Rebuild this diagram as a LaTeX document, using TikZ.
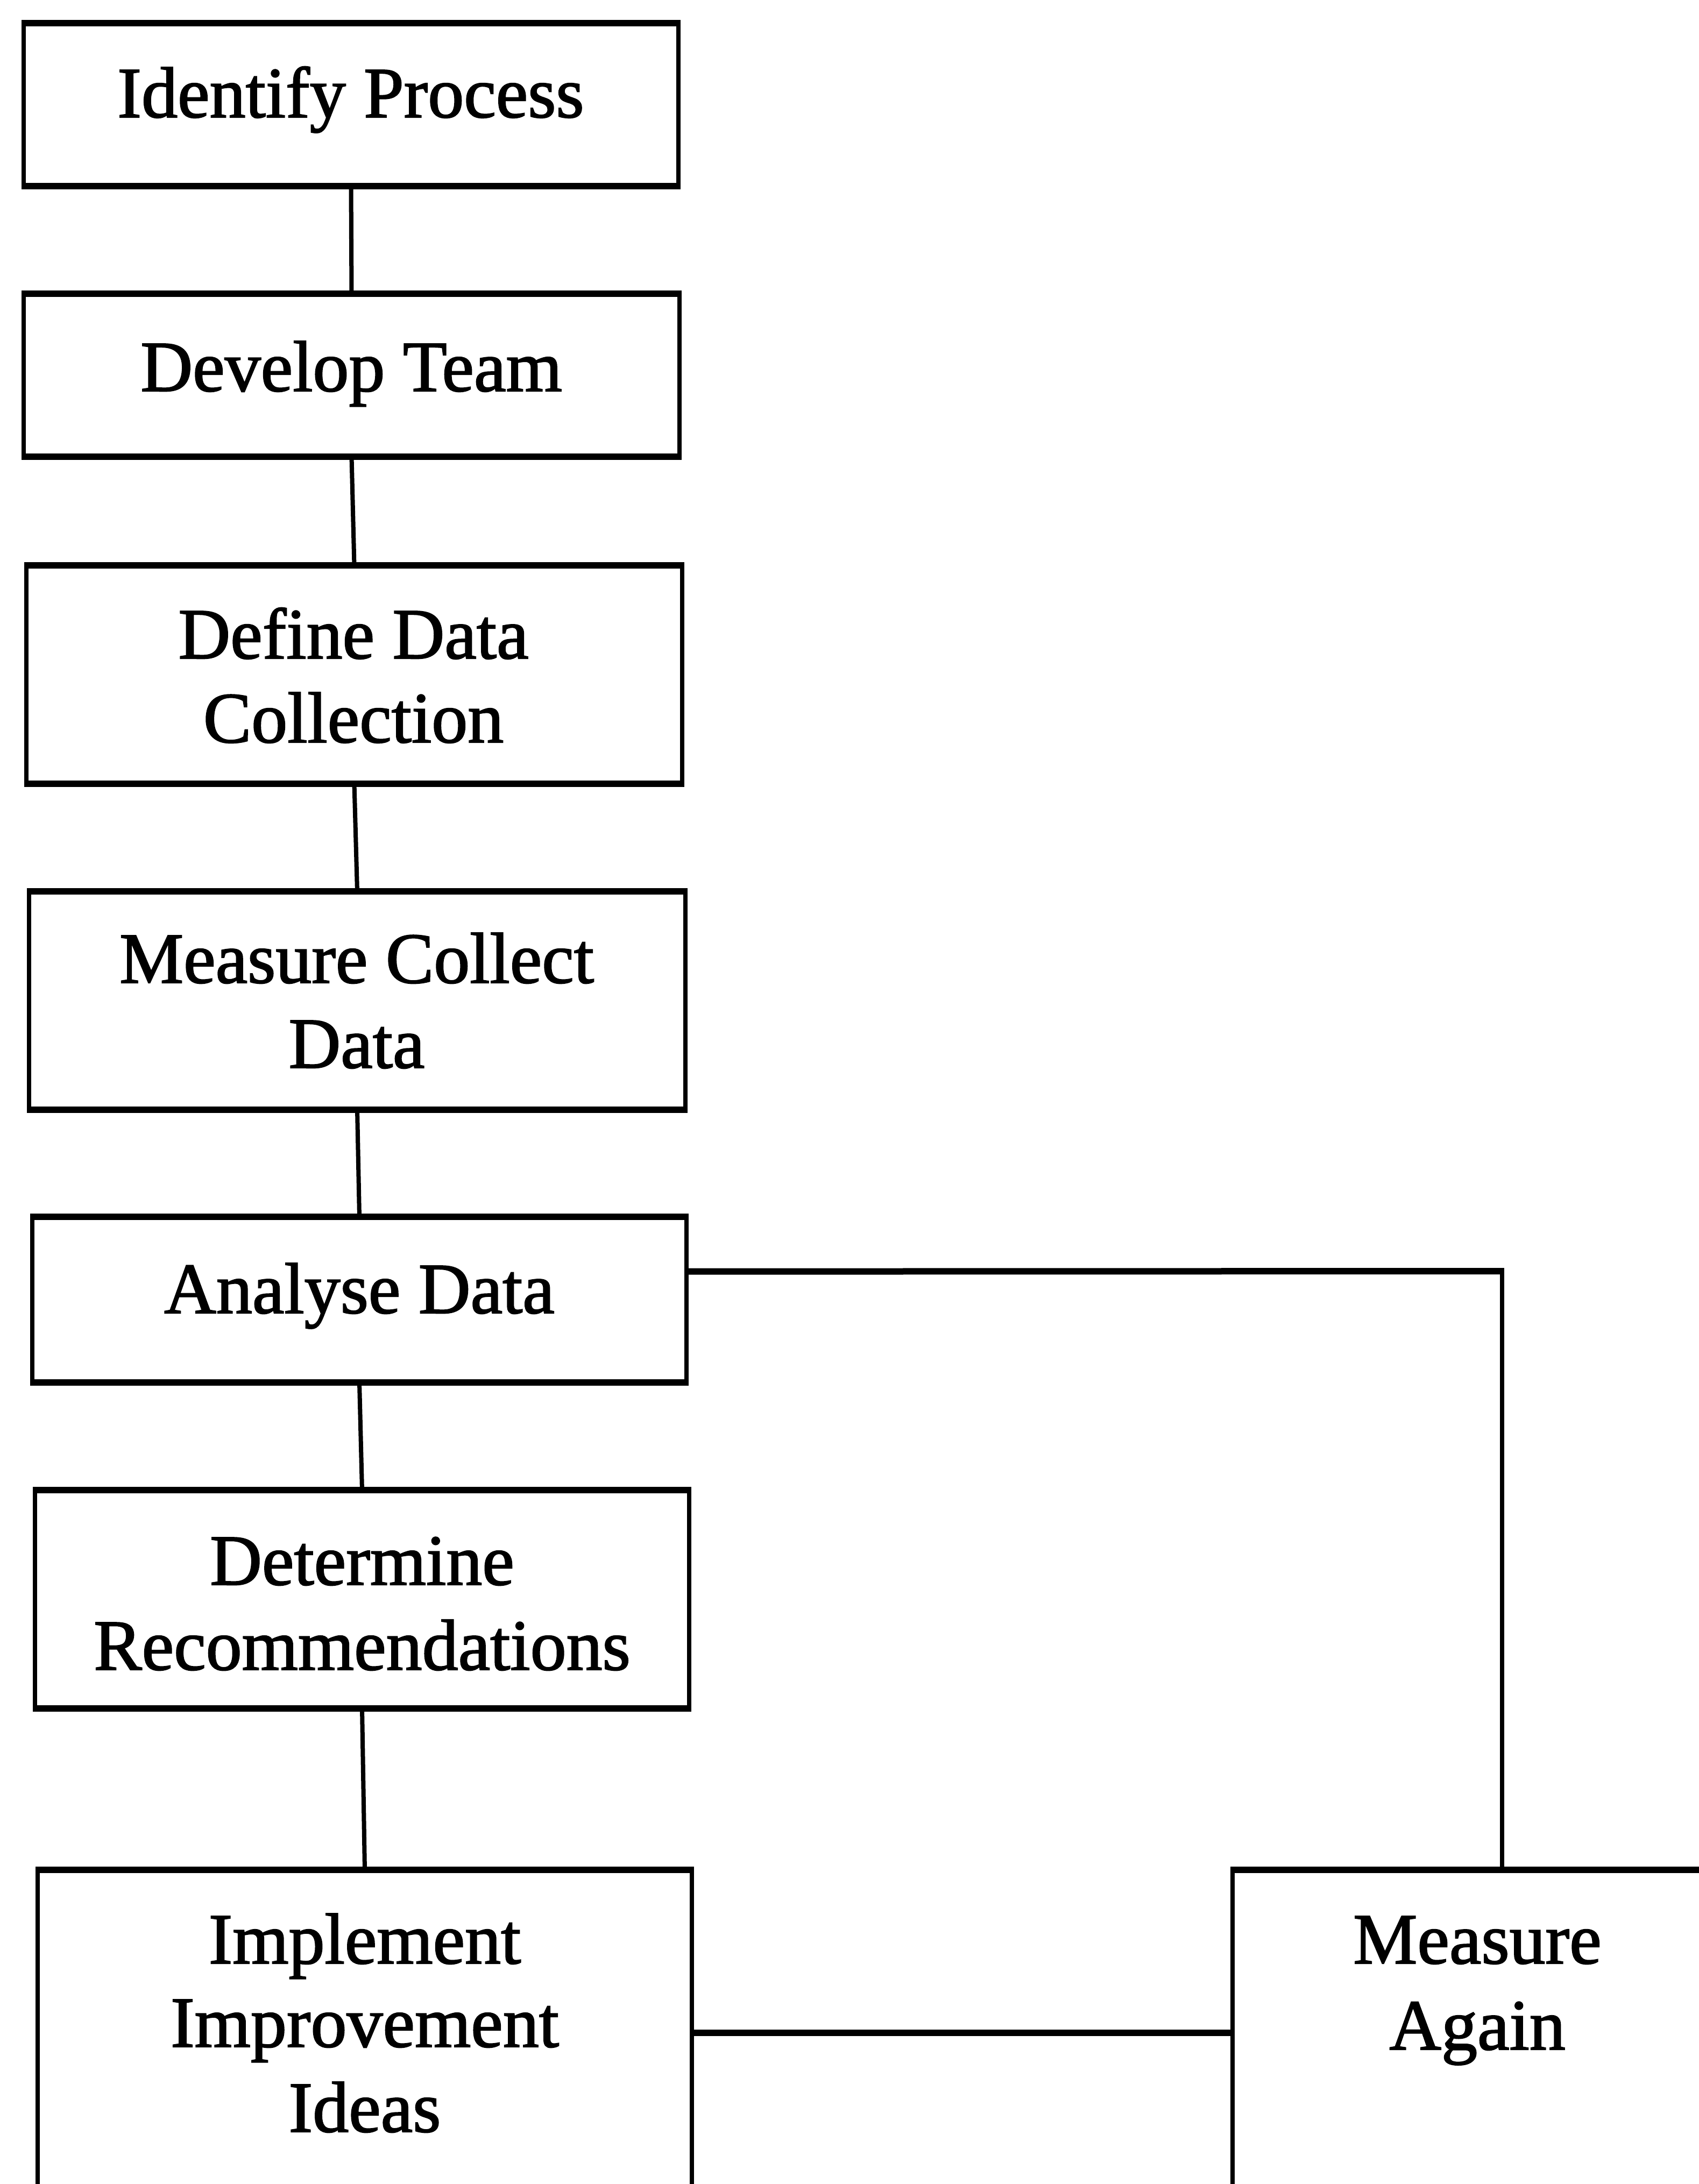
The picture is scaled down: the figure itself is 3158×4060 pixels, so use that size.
\documentclass[tikz,border=0pt]{standalone}
\usepackage{fontspec}
\setmainfont{Liberation Serif}[FakeBold=1.6]
\usetikzlibrary{calc}

\tikzset{
  stepbox/.style={draw, rectangle, line width=8pt, outer sep=0pt, inner sep=0pt},
  hedge/.style={line width=12pt, shorten <=-4pt, shorten >=-4pt},
  vconn/.style={line width=8pt},
  hconn/.style={line width=12pt},
  lbl/.style={anchor=base, inner sep=0pt, font=\fontsize{134}{157}\selectfont},
}

\begin{document}
\begin{tikzpicture}[x=1pt, y=-1pt]
  \useasboundingbox (0,0) rectangle (3158,4060);
  \clip (0,0) rectangle (3158,4060);
  \fill[white] (0,0) rectangle (3158,4060);

  % process boxes
  \node[stepbox, minimum width=1217pt, minimum height=303pt] (b1) at (652.5,194.5) {};
  \node[stepbox, minimum width=1219pt, minimum height=303pt] (b2) at (653.5,697.5) {};
  \node[stepbox, minimum width=1219pt, minimum height=406pt] (b3) at (658.5,1254) {};
  \node[stepbox, minimum width=1220pt, minimum height=406pt] (b4) at (664,1860) {};
  \node[stepbox, minimum width=1216pt, minimum height=308pt] (b5) at (668,2416) {};
  \node[stepbox, minimum width=1216pt, minimum height=406pt] (b6) at (673,2973) {};
  \node[stepbox, minimum width=1216pt, minimum height=824pt] (b7) at (678,3888) {};
  \node[stepbox, minimum width=910pt, minimum height=824pt] (b8) at (2746,3888) {};

  % heavier top and bottom edges
  \foreach \b in {b1,b2,b3,b4,b5,b6,b7,b8} {
    \draw[hedge] (\b.north west) -- (\b.north east);
    \draw[hedge] (\b.south west) -- (\b.south east);
  }

  % labels
  \node[lbl] (t1)  at (652,218)  {Identify Process};
  \node[lbl] (t2)  at (653,727)  {Develop Team};
  \node[lbl] (t3a) at (657,1224) {Define Data};
  \node[lbl] (t3b) at (657,1380) {Collection};
  \node[lbl] (t4a) at (663,1827) {Measure Collect};
  \node[lbl] (t4b) at (663,1985) {Data};
  \node[lbl] (t5)  at (668,2441) {Analyse Data};
  \node[lbl] (t6a) at (673,2946) {Determine};
  \node[lbl] (t6b) at (673,3104) {Recommendations};
  \node[lbl] (t7a) at (678,3650) {Implement};
  \node[lbl] (t7b) at (678,3805) {Improvement};
  \node[lbl] (t7c) at (678,3963) {Ideas};
  \node[lbl] (t8a) at (2746,3650) {Measure};
  \node[lbl] (t8b) at (2746,3810) {Again};

  % connectors down the main chain
  \draw[vconn] (b1.south) -- (b2.north);
  \draw[vconn] (b2.south) -- (b3.north);
  \draw[vconn] (b3.south) -- (b4.north);
  \draw[vconn] (b4.south) -- (b5.north);
  \draw[vconn] (b5.south) -- (b6.north);
  \draw[vconn] (b6.south) -- (b7.north);

  % loop from analysis over to the re-measurement step
  \coordinate (turn) at (2792,2363);
  \draw[hconn] ($(b5.north east)!0.33!(b5.south east)$) -- (turn);
  \draw[vconn] ([yshift=6pt]turn) -- (turn |- b8.north);

  % link between implementation and re-measurement
  \coordinate (hy) at (0,3779);
  \draw[hconn] (b7.east |- hy) -- (b8.west |- hy);
\end{tikzpicture}
\end{document}
